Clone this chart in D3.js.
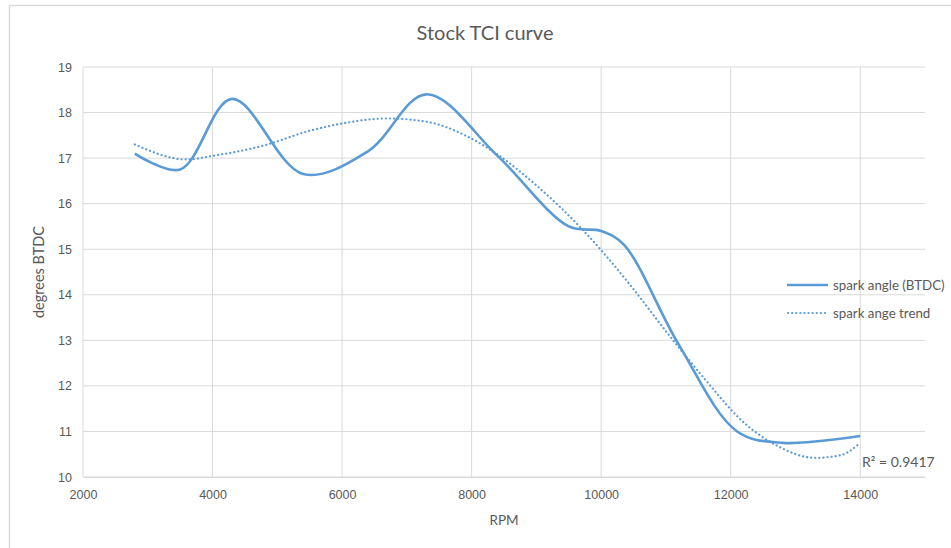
<!DOCTYPE html>
<html>
<head>
<meta charset="utf-8">
<script src="https://cdn.jsdelivr.net/npm/d3@7"></script>
<style>
  body { margin: 0; background: #fff; }
  svg { font-family: Lato, "Open Sans", sans-serif; }
</style>
</head>
<body>
<div id="chart"></div>
<script>
// spark angle readings (RPM, degrees BTDC)
const rpm = [2800, 3500, 4300, 5400, 6400, 7300, 8400, 9500, 10000, 10350, 11200, 12100, 12800, 14000];
const sparkAngle = [17.1, 16.75, 18.3, 16.65, 17.15, 18.4, 17.05, 15.5, 15.4, 15.1, 12.9, 11.0, 10.75, 10.9];

// trend line
const trendRpm = [2800, 3600, 4000, 4800, 5500, 6000, 6700, 7300, 7900, 8400, 9000, 9700, 10400, 11000, 11600, 12200, 12700, 13300, 13700, 14000];
const trendAngle = [17.3, 16.97, 17.05, 17.28, 17.6, 17.76, 17.87, 17.8, 17.5, 17.08, 16.4, 15.45, 14.3, 13.2, 12.15, 11.2, 10.7, 10.42, 10.48, 10.75];

const xTicks = [2000, 4000, 6000, 8000, 10000, 12000, 14000];
const yTicks = [10, 11, 12, 13, 14, 15, 16, 17, 18, 19];

const width = 951;
const height = 548;
const margin = { top: 67, right: 26, bottom: 71, left: 83 };
const blue = "#5b9bd5";
const textColor = "#595959";

const svg = d3.select("#chart")
    .append("svg")
    .attr("width", width)
    .attr("height", height);

// chart frame (only top and left edges are visible in the crop)
svg.append("path")
    .attr("d", `M9.5,${height} V5.5 H${width}`)
    .attr("fill", "none")
    .attr("stroke", "#d9d9d9")
    .attr("stroke-width", 1.5);

const x = d3.scaleLinear()
    .domain([2000, 15000])
    .range([margin.left, width - margin.right]);

const y = d3.scaleLinear()
    .domain([10, 19])
    .range([height - margin.bottom, margin.top]);

// grid
svg.append("g")
    .selectAll("line")
    .data(yTicks)
    .join("line")
    .attr("x1", margin.left)
    .attr("x2", width - margin.right)
    .attr("y1", d => y(d))
    .attr("y2", d => y(d))
    .attr("stroke", "#d9d9d9")
    .attr("stroke-width", 1);

svg.append("g")
    .selectAll("line")
    .data(xTicks)
    .join("line")
    .attr("x1", d => x(d))
    .attr("x2", d => x(d))
    .attr("y1", margin.top)
    .attr("y2", height - margin.bottom)
    .attr("stroke", "#d9d9d9")
    .attr("stroke-width", 1);

// axes
const xAxis = svg.append("g")
    .attr("transform", `translate(0,${height - margin.bottom})`)
    .call(d3.axisBottom(x).tickValues(xTicks).tickSize(0).tickPadding(13).tickFormat(d3.format("d")));

const yAxis = svg.append("g")
    .attr("transform", `translate(${margin.left},0)`)
    .call(d3.axisLeft(y).tickValues(yTicks).tickSize(0).tickPadding(11).tickFormat(d3.format("d")));

[xAxis, yAxis].forEach(g => {
    g.select(".domain").attr("stroke", "#d9d9d9").attr("stroke-width", 1);
    g.selectAll("text")
        .style("font-size", "12.5px")
        .attr("fill", textColor);
});
yAxis.select(".domain").remove();

// axis titles
svg.append("text")
    .attr("x", (margin.left + width - margin.right) / 2)
    .attr("y", 525)
    .attr("text-anchor", "middle")
    .style("font-size", "13.5px")
    .attr("fill", textColor)
    .text("RPM");

svg.append("text")
    .attr("transform", `translate(44,${(margin.top + height - margin.bottom) / 2}) rotate(-90)`)
    .attr("text-anchor", "middle")
    .style("font-size", "14.5px")
    .attr("fill", textColor)
    .text("degrees BTDC");

// title
svg.append("text")
    .attr("x", 485)
    .attr("y", 40)
    .attr("text-anchor", "middle")
    .style("font-size", "20px")
    .attr("fill", textColor)
    .text("Stock TCI curve");

// trend line
const trendData = trendRpm.map((r, i) => ({ rpm: r, value: trendAngle[i] }));
svg.append("path")
    .datum(trendData)
    .attr("fill", "none")
    .attr("stroke", blue)
    .attr("stroke-width", 2.2)
    .attr("stroke-dasharray", "0.1 4")
    .attr("stroke-linecap", "round")
    .attr("d", d3.line().x(d => x(d.rpm)).y(d => y(d.value)).curve(d3.curveMonotoneX));

// spark angle line
const sparkData = rpm.map((r, i) => ({ rpm: r, value: sparkAngle[i] }));
svg.append("path")
    .datum(sparkData)
    .attr("fill", "none")
    .attr("stroke", blue)
    .attr("stroke-width", 2.6)
    .attr("stroke-linejoin", "round")
    .attr("d", d3.line().x(d => x(d.rpm)).y(d => y(d.value)).curve(d3.curveCatmullRom.alpha(0.5)));

// R² label
svg.append("text")
    .attr("x", 862)
    .attr("y", 467)
    .style("font-size", "14px")
    .attr("fill", textColor)
    .text("R² = 0.9417");

// legend
const legend = svg.append("g").attr("transform", "translate(787,285)");
legend.append("line")
    .attr("x1", 0).attr("x2", 41)
    .attr("y1", 0).attr("y2", 0)
    .attr("stroke", blue)
    .attr("stroke-width", 2.6);
legend.append("line")
    .attr("x1", 1).attr("x2", 41)
    .attr("y1", 28).attr("y2", 28)
    .attr("stroke", blue)
    .attr("stroke-width", 2.2)
    .attr("stroke-dasharray", "0.1 4")
    .attr("stroke-linecap", "round");
legend.append("text")
    .attr("x", 46).attr("y", 0).attr("dy", "0.35em")
    .style("font-size", "13.3px")
    .attr("fill", textColor)
    .text("spark angle (BTDC)");
legend.append("text")
    .attr("x", 46).attr("y", 28).attr("dy", "0.35em")
    .style("font-size", "13.3px")
    .attr("fill", textColor)
    .text("spark ange trend");
</script>
</body>
</html>
